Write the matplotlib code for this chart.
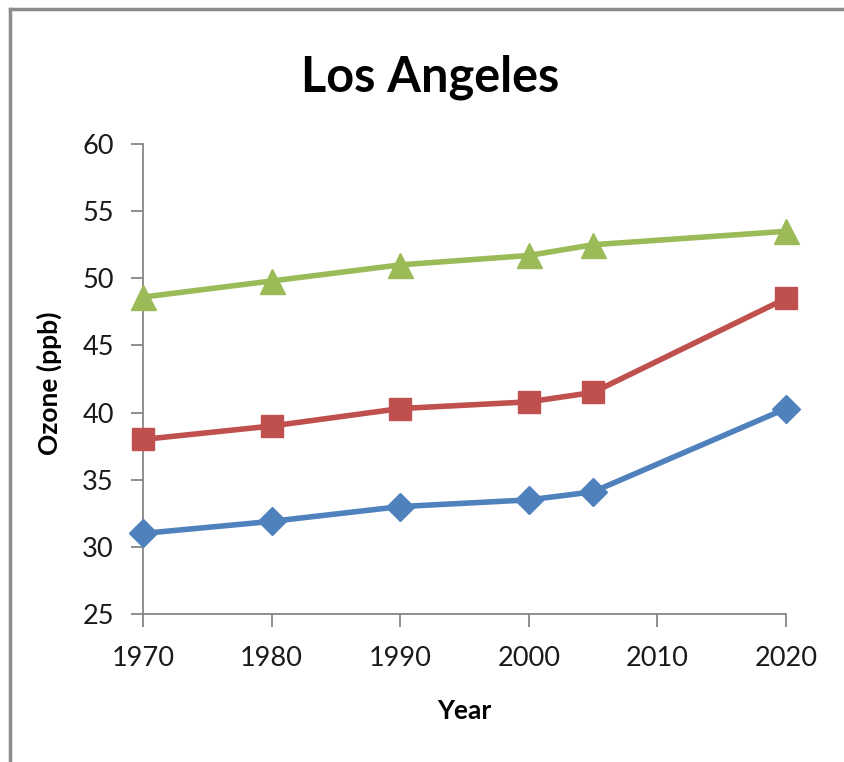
import matplotlib.pyplot as plt
from matplotlib.lines import Line2D

plt.rcParams['font.family'] = ['Lato', 'DejaVu Sans']

# data
years = [1970, 1980, 1990, 2000, 2005, 2020]
blue_vals = [31.0, 31.9, 33.0, 33.5, 34.1, 40.3]
red_vals = [38.0, 39.0, 40.3, 40.8, 41.5, 48.5]
green_vals = [48.6, 49.8, 51.0, 51.7, 52.5, 53.5]
x_ticks = [1970, 1980, 1990, 2000, 2010, 2020]
y_ticks = [25, 30, 35, 40, 45, 50, 55, 60]

fig = plt.figure(figsize=(8.44, 7.62), dpi=100)
ax = fig.add_axes([0.1694, 0.1942, 0.7619, 0.6168])

ax.plot(years, blue_vals, color='#4F81BD', lw=4, marker='D', ms=14, clip_on=False, zorder=3)
ax.plot(years, red_vals, color='#C0504D', lw=4, marker='s', ms=16, clip_on=False, zorder=3)
ax.plot(years, green_vals, color='#9BBB59', lw=4, marker='^', ms=18, clip_on=False, zorder=3)

ax.set_xlim(1970, 2020)
ax.set_ylim(25, 60)
ax.set_xticks(x_ticks)
ax.set_yticks(y_ticks)

for side in ['top', 'right']:
    ax.spines[side].set_visible(False)
for side in ['left', 'bottom']:
    ax.spines[side].set_color('#868686')
    ax.spines[side].set_linewidth(1.3)
ax.tick_params(length=9, width=1.3, color='#868686', labelsize=19.5, labelcolor='#1a1a1a')
ax.tick_params(axis='x', pad=14)
ax.tick_params(axis='y', pad=12)

ax.set_xlabel('Year', fontsize=19, fontweight='bold', labelpad=20)
ax.set_ylabel('Ozone (ppb)', fontsize=19, fontweight='bold')
ax.yaxis.set_label_coords(-0.126, 0.49)
fig.text(0.51, 0.899, 'Los Angeles', ha='center', va='center', fontsize=35, fontweight='bold')

# outer chart frame (only top and left visible in reference)
fig.add_artist(Line2D([0.012, 1.0], [0.988, 0.988], color='#8c8c8c', lw=2.5, transform=fig.transFigure))
fig.add_artist(Line2D([0.012, 0.012], [0.0, 0.988], color='#8c8c8c', lw=2.5, transform=fig.transFigure))

fig.savefig('out.png', dpi=100)
